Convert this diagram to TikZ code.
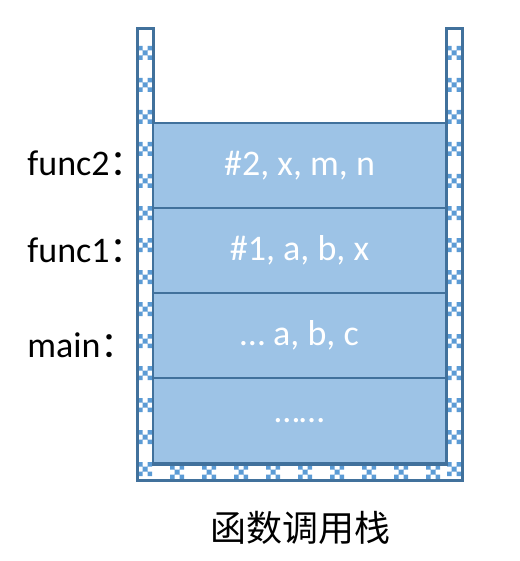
\documentclass[tikz,border=0pt]{standalone}
\usepackage{fontspec}
\usetikzlibrary{positioning}
\setmainfont{Carlito}
\newfontfamily\cjk{Noto Sans CJK SC}
\definecolor{wallline}{HTML}{41719C}
\definecolor{wallmark}{HTML}{5B9BD5}
\definecolor{framefill}{HTML}{9DC3E6}
\begin{document}
\begin{tikzpicture}[x=0.5pt,y=-0.5pt,
    frame/.style={draw=wallline,line width=1pt,fill=framefill,
      minimum width=146.5pt,minimum height=42.5pt,outer sep=0pt,inner sep=0pt,
      text=white,font=\fontsize{18}{20}\selectfont},
    funclabel/.style={anchor=west,inner sep=0pt,font=\fontsize{18}{20}\selectfont},
    wallcross/.pic={
      \fill[wallmark] (-7,-7) rectangle (-2.5,-2.5) (2.5,-7) rectangle (7,-2.5)
        (-2.5,-2.5) rectangle (2.5,2.5) (-7,2.5) rectangle (-2.5,7) (2.5,2.5) rectangle (7,7);}]
  \useasboundingbox (0,0) rectangle (519,561);
  % stack walls
  \path[fill=white] (137,29) -- (137,480) -- (462,480) -- (462,29)
    -- (446,29) -- (446,464) -- (153,464) -- (153,29) -- cycle;
  \begin{scope}
    \clip (137,29) -- (137,480) -- (462,480) -- (462,29)
      -- (446,29) -- (446,464) -- (153,464) -- (153,29) -- cycle;
    \foreach \y in {53,85,...,469} {
      \pic at (145,\y) {wallcross};
      \pic at (454,\y) {wallcross};
    }
    \foreach \x in {177,209,...,433}
      \pic at (\x,472) {wallcross};
  \end{scope}
  \draw[wallline,line width=1.5pt] (137,29) -- (137,480) -- (462,480) -- (462,29)
    -- (446,29) -- (446,464) -- (153,464) -- (153,29) -- cycle;
  % frames
  \node[frame] (f2) at (299.5,165.5) {\#2, x, m, n};
  \node[frame,below=0pt of f2] (f1) {\#1, a, b, x};
  \node[frame,below=0pt of f1] (fm) {\dots\ a, b, c};
  \node[frame,below=0pt of fm] (fr) {\dots\dots};
  % labels
  \node[funclabel] (l2) at (27,163) {func2\cjk{：}};
  \node[funclabel] (l1) at (27,250) {func1\cjk{：}};
  \node[funclabel] (lm) at (27,345) {main\cjk{：}};
  \node (cap) at (300,528) {\cjk\fontsize{18}{20}\selectfont 函数调用栈};
\end{tikzpicture}
\end{document}
